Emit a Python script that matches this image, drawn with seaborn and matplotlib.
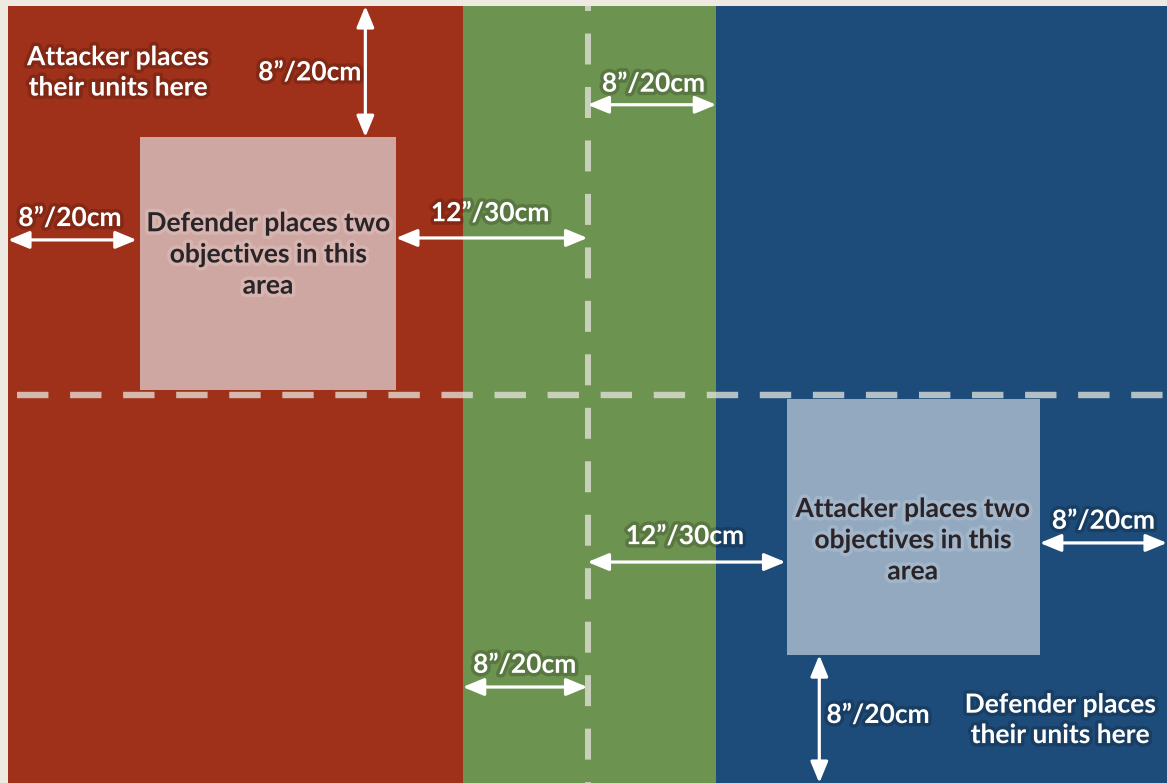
import matplotlib
matplotlib.use("Agg")
import matplotlib.pyplot as plt
import matplotlib.patheffects as pe
from matplotlib.patches import Rectangle
import seaborn as sns

# board is 72" x 48", y measured from the top edge
board_w = 72
board_h = 48
centre_x = 36
centre_y = 24

zone_names = ["attacker", "middle", "defender"]
zone_left = [0, 28.25, 44]
zone_right = [28.25, 44, 72]
zone_colors = ["#9f311a", "#6d9350", "#1e4c7a"]

obj_labels = ["Defender places two\nobjectives in this\narea",
              "Attacker places two\nobjectives in this\narea"]
obj_x0 = [8.2, 48.4]
obj_x1 = [24.1, 64.1]
obj_y0 = [8.1, 24.25]
obj_y1 = [23.7, 40.1]
obj_colors = ["#cfa7a2", "#93a9c0"]
obj_text_x = [16.15, 56.2]
obj_text_y = [15.35, 33.0]

deploy_labels = ["Attacker places\ntheir units here", "Defender places\ntheir units here"]
deploy_x = [6.83, 65.35]
deploy_y = [4.1, 44.1]

# measurement arrows: start, end and label position (inches)
arr_x0 = [22.2, 0, 24.1, 36, 64.1, 36, 28.25, 50.4]
arr_y0 = [0, 14.45, 14.33, 6.1, 33.17, 34.35, 42.07, 40.1]
arr_x1 = [22.2, 8, 36, 44, 72, 48.3, 36, 50.4]
arr_y1 = [8.1, 14.45, 14.33, 6.1, 33.17, 34.35, 42.07, 48]
arr_labels = ["8\u201d/20cm", "8\u201d/20cm", "12\u201d/30cm", "8\u201d/20cm",
              "8\u201d/20cm", "12\u201d/30cm", "8\u201d/20cm", "8\u201d/20cm"]
lab_x = [18.75, 3.85, 29.95, 40.1, 68.05, 42.05, 32.1, 54.05]
lab_y = [4.1, 13.1, 12.8, 4.8, 31.8, 32.75, 40.7, 43.8]

sns.set_theme(style="white")
plt.rcParams["font.family"] = ["Lato", "DejaVu Sans"]
plt.rcParams["lines.scale_dashes"] = False

fig = plt.figure(figsize=(11.67, 7.83), dpi=100)
fig.patch.set_facecolor("#eee9e1")
ax = fig.add_axes([8 / 1167, 0, 1159 / 1167, 777 / 783])
ax.set_xlim(0, board_w)
ax.set_ylim(board_h, 0)
ax.axis("off")

for l, r, c in zip(zone_left, zone_right, zone_colors):
    ax.axvspan(l, r, color=c, lw=0)

for x0, x1, y0, y1, c in zip(obj_x0, obj_x1, obj_y0, obj_y1, obj_colors):
    ax.add_patch(Rectangle((x0, y0), x1 - x0, y1 - y0, facecolor=c, edgecolor="none"))

dash = "#e8e6de"
ax.plot([centre_x, centre_x], [0, board_h], color=dash, alpha=0.75, lw=4.3,
        ls=(18.7, (22.3, 16.2)), dash_capstyle="butt")
ax.plot([0, board_w], [centre_y, centre_y], color=dash, alpha=0.75, lw=4.6,
        ls=(31.7, (22.6, 15.6)), dash_capstyle="butt")

glow_dark = [pe.withStroke(linewidth=5, foreground="#000000", alpha=0.18)]
glow_light = [pe.withStroke(linewidth=5, foreground="#ffffff", alpha=0.15)]

for x0, y0, x1, y1 in zip(arr_x0, arr_y0, arr_x1, arr_y1):
    ax.annotate("", xy=(x1, y1), xytext=(x0, y0),
                arrowprops=dict(arrowstyle="<|-|>,head_length=0.8,head_width=0.33",
                                color="white", lw=2.3, mutation_scale=16,
                                shrinkA=0, shrinkB=0))

fs = 19
for t, x, y in zip(arr_labels, lab_x, lab_y):
    ax.text(x, y, t, color="white", fontsize=fs, fontweight="bold",
            ha="center", va="center", path_effects=glow_dark)

for t, x, y in zip(deploy_labels, deploy_x, deploy_y):
    ax.text(x, y, t, color="white", fontsize=fs, fontweight="bold",
            ha="center", va="center", linespacing=1.32, path_effects=glow_dark)

for t, x, y in zip(obj_labels, obj_text_x, obj_text_y):
    ax.text(x, y, t, color="#2a2428", fontsize=fs, fontweight="bold",
            ha="center", va="center", linespacing=1.36, path_effects=glow_light)

fig.savefig("out.png", dpi=100, facecolor=fig.get_facecolor())
